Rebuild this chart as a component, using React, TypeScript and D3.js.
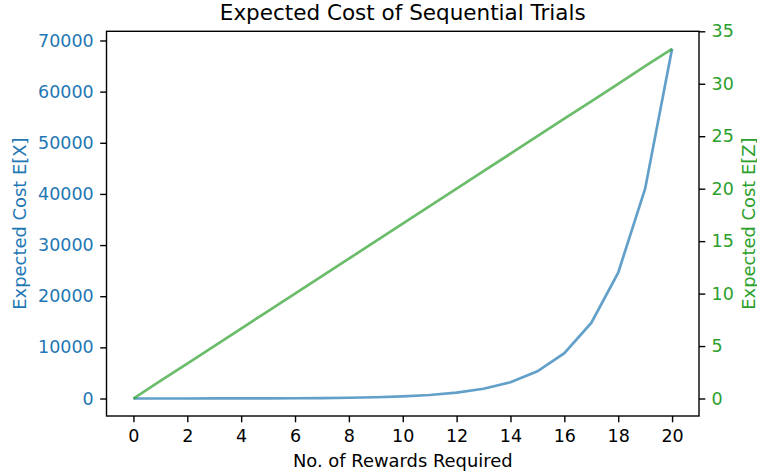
import { useRef, useEffect } from "react"
import * as d3 from "d3"

// number of rewards required
const rewards = [0, 1, 2, 3, 4, 5, 6, 7, 8, 9, 10, 11, 12, 13, 14, 15, 16, 17, 18, 19, 20]
// expected cost E[X]
const costX = [
  0, 1.7, 4.4, 9.1, 16.8, 29.7, 51.1, 86.8, 146, 246, 411, 687, 1146, 1912, 3188,
  5315, 8860, 14768, 24614, 41025, 68376,
]
// expected cost E[Z] (straight line)
const costZ = [
  0, 1.67, 3.33, 5, 6.67, 8.33, 10, 11.67, 13.33, 15, 16.67, 18.33, 20, 21.67, 23.33,
  25, 26.67, 28.33, 30, 31.67, 33.33,
]
const xTicks = [0, 2, 4, 6, 8, 10, 12, 14, 16, 18, 20]
const leftTicks = [0, 10000, 20000, 30000, 40000, 50000, 60000, 70000]
const rightTicks = [0, 5, 10, 15, 20, 25, 30, 35]

const BLUE = "#1f77b4"
const GREEN = "#2ca02c"
const FONT = "DejaVu Sans, sans-serif"

const App = () => {
  const svgRef = useRef<SVGSVGElement>(null)

  useEffect(() => {
    const svg = d3.select(svgRef.current)
    svg.selectAll("*").remove()

    const left = 106.5
    const right = 699
    const top = 31.3
    const bottom = 416

    const x = d3.scaleLinear().domain([-1, 21]).range([left, right])
    const yL = d3.scaleLinear().domain([-3419, 71795]).range([bottom, top])
    const yR = d3.scaleLinear().domain([-1.667, 35]).range([bottom, top])

    const tickFont = 17.5
    const labelFont = 17.9
    const tickLen = 6.3

    // bottom axis
    const gx = svg
      .append("g")
      .attr("transform", `translate(0,${bottom})`)
      .call(d3.axisBottom(x).tickValues(xTicks).tickSizeOuter(0).tickSize(tickLen).tickPadding(7.5))
    gx.select(".domain").remove()
    gx.selectAll("line").attr("stroke", "#000").attr("stroke-width", 1.4)
    gx.selectAll("text").attr("font-size", tickFont).attr("font-family", FONT).attr("fill", "#000")

    // left axis
    const gl = svg
      .append("g")
      .attr("transform", `translate(${left},0)`)
      .call(d3.axisLeft(yL).tickValues(leftTicks).tickFormat(d3.format("d")).tickSize(tickLen).tickPadding(6.5))
    gl.select(".domain").remove()
    gl.selectAll("line").attr("stroke", "#000").attr("stroke-width", 1.4)
    gl.selectAll("text").attr("font-size", tickFont).attr("font-family", FONT).attr("fill", BLUE)

    // right axis
    const gr = svg
      .append("g")
      .attr("transform", `translate(${right},0)`)
      .call(d3.axisRight(yR).tickValues(rightTicks).tickSize(tickLen).tickPadding(6.3))
    gr.select(".domain").remove()
    gr.selectAll("line").attr("stroke", "#000").attr("stroke-width", 1.4)
    gr.selectAll("text").attr("font-size", tickFont).attr("font-family", FONT).attr("fill", GREEN)

    // frame
    svg
      .append("rect")
      .attr("x", left)
      .attr("y", top)
      .attr("width", right - left)
      .attr("height", bottom - top)
      .attr("fill", "none")
      .attr("stroke", "#000")
      .attr("stroke-width", 1.4)

    // lines
    const lineX = d3
      .line<number>()
      .x((_, i) => x(rewards[i]))
      .y((d) => yL(d))
    const lineZ = d3
      .line<number>()
      .x((_, i) => x(rewards[i]))
      .y((d) => yR(d))

    svg
      .append("path")
      .datum(costX)
      .attr("fill", "none")
      .attr("stroke", BLUE)
      .attr("stroke-opacity", 0.7)
      .attr("stroke-width", 2.7)
      .attr("d", lineX)

    svg
      .append("path")
      .datum(costZ)
      .attr("fill", "none")
      .attr("stroke", GREEN)
      .attr("stroke-opacity", 0.7)
      .attr("stroke-width", 2.7)
      .attr("d", lineZ)

    // title
    svg
      .append("text")
      .attr("x", (left + right) / 2)
      .attr("y", 20)
      .attr("text-anchor", "middle")
      .attr("font-family", FONT)
      .attr("font-size", 21.5)
      .text("Expected Cost of Sequential Trials")

    // x label
    svg
      .append("text")
      .attr("x", (left + right) / 2)
      .attr("y", 466.5)
      .attr("text-anchor", "middle")
      .attr("font-family", FONT)
      .attr("font-size", labelFont)
      .text("No. of Rewards Required")

    // left y label
    svg
      .append("text")
      .attr("transform", `translate(26.3,${(top + bottom) / 2}) rotate(-90)`)
      .attr("text-anchor", "middle")
      .attr("font-family", FONT)
      .attr("font-size", labelFont)
      .attr("fill", BLUE)
      .text("Expected Cost E[X]")

    // right y label
    svg
      .append("text")
      .attr("transform", `translate(754.5,${(top + bottom) / 2}) rotate(-90)`)
      .attr("text-anchor", "middle")
      .attr("font-family", FONT)
      .attr("font-size", labelFont)
      .attr("fill", GREEN)
      .text("Expected Cost E[Z]")
  }, [])

  return (
    <svg
      ref={svgRef}
      width={757}
      height={475}
      style={{ position: "absolute", left: 0, top: 0, background: "#fff" }}
    ></svg>
  )
}

export default App
